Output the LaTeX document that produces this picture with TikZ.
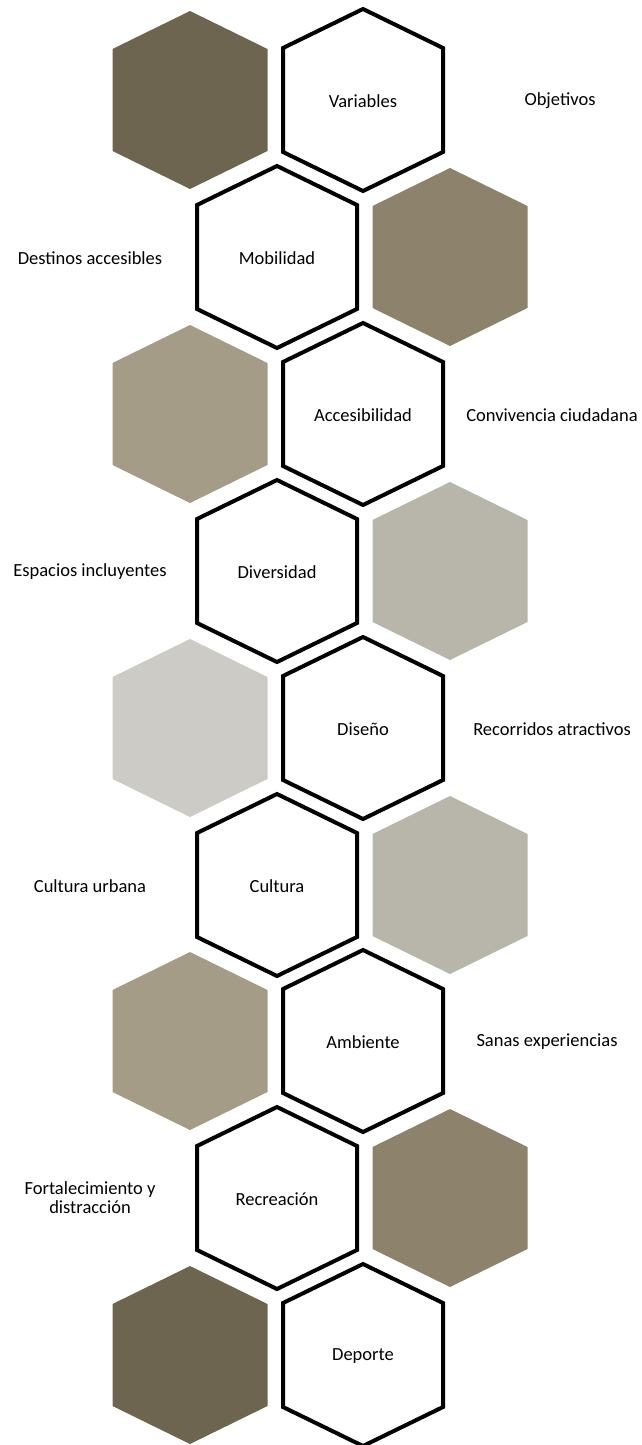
\documentclass[tikz,border=0pt]{standalone}
\usepackage{fontspec}
\setmainfont{Carlito}
\definecolor{hexA}{HTML}{6D6550}
\definecolor{hexB}{HTML}{8D836C}
\definecolor{hexC}{HTML}{A59C88}
\definecolor{hexD}{HTML}{B8B5AA}
\definecolor{hexE}{HTML}{CCCBC5}
\newcommand{\myWhiteHex}[2]{%
  \draw[whitehex] (#1,#2-91) -- (#1+80,#2-52) -- (#1+80,#2+52) -- (#1,#2+91) -- (#1-80,#2+52) -- (#1-80,#2-52) -- cycle;}
\newcommand{\myFillHex}[3]{%
  \fill[#3] (#1,#2-89) -- (#1+77.5,#2-51) -- (#1+77.5,#2+51) -- (#1,#2+89) -- (#1-77.5,#2+51) -- (#1-77.5,#2-51) -- cycle;}
\tikzset{
  whitehex/.style={draw=black, fill=white, line width=4bp, line join=miter},
  lbl/.style={font=\fontsize{18.5bp}{19bp}\selectfont, text=black, inner sep=0pt, align=center}
}
\begin{document}
\begin{tikzpicture}[x=1bp,y=-1bp]
\useasboundingbox (0,0) rectangle (642,1445);
% filled hexagons
\myFillHex{190}{100}{hexA}
\myFillHex{450}{257}{hexB}
\myFillHex{190}{414}{hexC}
\myFillHex{450}{571}{hexD}
\myFillHex{190}{728}{hexE}
\myFillHex{450}{885}{hexD}
\myFillHex{190}{1041}{hexC}
\myFillHex{450}{1198}{hexB}
\myFillHex{190}{1355}{hexA}
% white hexagons
\myWhiteHex{363}{100}
\myWhiteHex{277}{257}
\myWhiteHex{363}{414}
\myWhiteHex{277}{571}
\myWhiteHex{363}{728}
\myWhiteHex{277}{885}
\myWhiteHex{363}{1041}
\myWhiteHex{277}{1198}
\myWhiteHex{363}{1355}
% variable labels
\node[lbl] (v1) at (363,101) {Variables};
\node[lbl] (v2) at (277,258) {Mobilidad};
\node[lbl] (v3) at (363,415) {Accesibilidad};
\node[lbl] (v4) at (277,572) {Diversidad};
\node[lbl] (v5) at (363,729) {Diseño};
\node[lbl] (v6) at (277,886) {Cultura};
\node[lbl] (v7) at (363,1042) {Ambiente};
\node[lbl] (v8) at (277,1199) {Recreación};
\node[lbl] (v9) at (363,1356) {Deporte};
% objective labels
\node[lbl] (o1) at (560,101) {Objetivos};
\node[lbl] (o2) at (90,258) {Destinos accesibles};
\node[lbl] (o3) at (552,415) {Convivencia ciudadana};
\node[lbl] (o4) at (90,572) {Espacios incluyentes};
\node[lbl] (o5) at (552,729) {Recorridos atractivos};
\node[lbl] (o6) at (90,886) {Cultura urbana};
\node[lbl] (o7) at (547,1042) {Sanas experiencias};
\node[lbl] (o8) at (90,1198) {Fortalecimiento y\\distracción};
\end{tikzpicture}
\end{document}
